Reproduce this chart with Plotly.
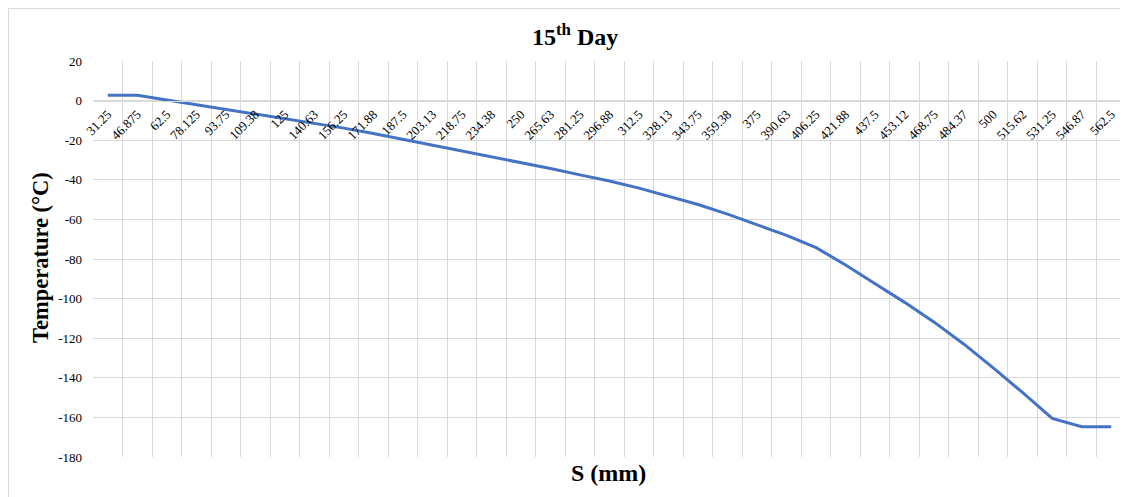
import plotly.graph_objects as go

# Data
s_labels = ["31.25", "46.875", "62.5", "78.125", "93.75", "109.38", "125", "140.63",
            "156.25", "171.88", "187.5", "203.13", "218.75", "234.38", "250", "265.63",
            "281.25", "296.88", "312.5", "328.13", "343.75", "359.38", "375", "390.63",
            "406.25", "421.88", "437.5", "453.12", "468.75", "484.37", "500", "515.62",
            "531.25", "546.87", "562.5"]
temperature = [2.7, 2.7, 0.3, -2.1, -4.5, -6.8, -9.0, -11.5, -13.9, -16.6, -19.5,
               -22.4, -25.3, -28.2, -31.2, -34.3, -37.5, -40.6, -44.2, -48.3, -52.5,
               -57.3, -62.5, -68.1, -74.3, -83.0, -92.5, -101.9, -111.9, -122.9,
               -135.0, -147.5, -160.5, -164.7, -164.7]
y_tickvals = [20, 0, -20, -40, -60, -80, -100, -120, -140, -160, -180]
y_ticktext = ["20", "0", "-20", "-40", "-60", "-80", "-100", "-120", "-140", "-160", "-180"]

# page body has an 8px margin; work in page pixels and convert
OFF = 8
W, H = 1120, 489
ML, MR, MT, MB = 85, 2, 53, 40
PW = W - ML - MR
PH = H - MT - MB

def px_x(p):
    return (p - OFF - ML) / PW

def px_y(p):
    return (H - MB - (p - OFF)) / PH

GRID = "#d9d9d9"
SERIF = "Liberation Serif, Times New Roman, serif"

fig = go.Figure()
fig.add_trace(go.Scatter(
    x=s_labels, y=temperature, mode="lines",
    line=dict(color="#4472C4", width=3),
    hoverinfo="skip", showlegend=False,
))

fig.update_layout(
    width=W, height=H,
    margin=dict(l=ML, r=MR, t=MT, b=MB),
    paper_bgcolor="white", plot_bgcolor="white",
    font=dict(family=SERIF, color="#000000", size=13),
    showlegend=False,
    xaxis=dict(
        type="category", range=[-0.5, len(s_labels) - 0.5],
        tickson="boundaries", ticks="", showgrid=True, gridcolor=GRID, gridwidth=1,
        anchor="free", position=0.9, showline=True, linecolor=GRID, linewidth=1,
        tickangle=-45, tickfont=dict(family=SERIF, size=13, color="#000000"),
        zeroline=False,
    ),
    yaxis=dict(
        range=[-180, 20], tickvals=y_tickvals, ticktext=y_ticktext,
        showgrid=True, gridcolor=GRID, gridwidth=1, zeroline=False,
        showline=False, ticks="", ticklabelstandoff=10,
        tickfont=dict(family=SERIF, size=13, color="#000000"),
    ),
    shapes=[
        dict(type="rect", xref="paper", yref="paper",
             x0=px_x(8.5), x1=px_x(1140), y0=px_y(510), y1=px_y(8.5),
             line=dict(color=GRID, width=1), fillcolor="rgba(0,0,0,0)", layer="below"),
    ],
    annotations=[
        dict(text="<b>15<sup>th</sup> Day</b>", xref="paper", yref="paper",
             x=px_x(574.5), y=px_y(35), xanchor="center", yanchor="middle",
             showarrow=False, font=dict(family=SERIF, size=24, color="#000000")),
        dict(text="<b>Temperature (°C)</b>", xref="paper", yref="paper",
             x=px_x(40), y=px_y(258), xanchor="center", yanchor="middle",
             textangle=-90, showarrow=False,
             font=dict(family=SERIF, size=22.5, color="#000000")),
        dict(text="<b>S (mm)</b>", xref="paper", yref="paper",
             x=px_x(608), y=px_y(473), xanchor="center", yanchor="middle",
             showarrow=False, font=dict(family=SERIF, size=24, color="#000000")),
    ],
)

fig.write_html("out.html")
